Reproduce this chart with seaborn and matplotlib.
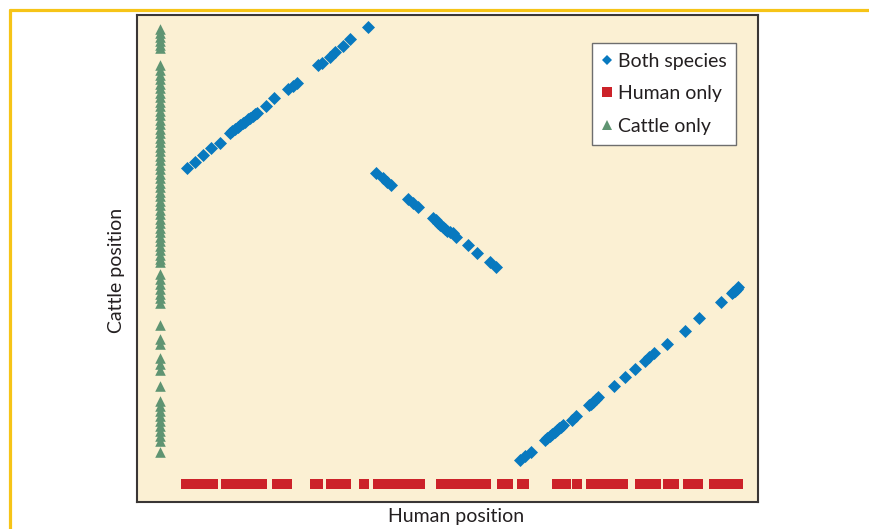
import numpy as np
import pandas as pd
import matplotlib
matplotlib.use("Agg")
import matplotlib.pyplot as plt
from matplotlib.lines import Line2D
import seaborn as sns

# ---------------- data (positions in arbitrary units) ----------------
both_human = [50, 58, 66, 74, 83, 93, 95, 98, 101, 103, 106, 108, 111, 113, 116, 118, 120,
              129, 137, 151, 156, 160, 181, 185, 193, 198, 206, 213, 231,
              239, 246, 250, 254, 271, 276, 281, 296, 299, 301, 303, 306, 308, 310, 313, 316,
              319, 331, 340, 353, 359,
              383, 388, 394, 408, 410, 413, 415, 418, 420, 422, 424, 426, 435, 439, 452, 454,
              456, 459, 461, 477, 488, 498, 508, 512, 517, 530, 548, 562, 584, 595, 596, 598,
              600, 601]
both_cattle = [334, 340, 347, 354, 359, 369, 371, 373, 375, 377, 379, 380, 383, 384, 386, 388, 389,
               396, 404, 413, 416, 419, 437, 439, 445, 450, 456, 463, 475,
               329, 324, 320, 317, 303, 299, 295, 284, 282, 279, 277, 275, 273, 271, 270, 269,
               265, 257, 249, 240, 235,
               42, 46, 50, 62, 64, 66, 68, 70, 72, 74, 75, 77, 82, 86, 97, 98,
               100, 103, 105, 116, 125, 133, 141, 145, 149, 158, 171, 184, 200, 209, 210, 211,
               213, 215]

human_only_x = [49, 58, 67, 76, 89, 98, 107, 116, 125, 140, 150, 178, 181, 194, 202, 209, 227,
                241, 250, 259, 268, 276, 283, 304, 313, 322, 331, 340, 349, 365, 371, 385, 387,
                420, 429, 440, 454, 463, 472, 481, 486, 503, 512, 519, 531, 537, 551, 561, 577,
                586, 595, 601]
human_only_y = [18.5] * len(human_only_x)

cattle_only_y = [473, 469, 465, 461, 457, 454,
                 437, 432, 427, 423, 418, 414, 409, 405, 400, 396, 391, 387, 382, 378, 373, 369,
                 364, 360, 355, 351, 346, 342, 337, 333, 328, 324, 319, 315, 310, 306, 301, 297,
                 292, 288, 283, 279, 274, 270, 265, 261, 256, 252, 247, 243, 240,
                 228, 223, 218, 213, 208, 204, 199,
                 177, 163, 158, 144, 138, 132, 116, 101, 96, 91, 86, 81, 76, 71, 66, 61, 50]
cattle_only_x = [23] * len(cattle_only_y)

labels = ["Both species", "Human only", "Cattle only"]
colors = ["#0879BF", "#CC2229", "#5F9472"]

df_both = pd.DataFrame({"Human position": both_human, "Cattle position": both_cattle})
df_human = pd.DataFrame({"Human position": human_only_x, "Cattle position": human_only_y})
df_cattle = pd.DataFrame({"Human position": cattle_only_x, "Cattle position": cattle_only_y})

# ---------------- figure ----------------
sns.set_theme(style="white")
plt.rcParams["font.family"] = ["Lato", "DejaVu Sans"]

fig = plt.figure(figsize=(8.69, 5.29), dpi=100)
ax = fig.add_axes([137 / 869, 1 - 502 / 529, (758 - 137) / 869, (502 - 15) / 529])
ax.set_facecolor("#FBF0D3")

sns.scatterplot(data=df_both, x="Human position", y="Cattle position", marker="D",
                color=colors[0], s=44, linewidth=0, ax=ax, label=labels[0])
sns.scatterplot(data=df_human, x="Human position", y="Cattle position", marker="s",
                color=colors[1], s=60, linewidth=0, ax=ax, label=labels[1])
sns.scatterplot(data=df_cattle, x="Human position", y="Cattle position", marker="^",
                color=colors[2], s=58, linewidth=0, ax=ax, label=labels[2])

ax.set_xlim(0, 621)
ax.set_ylim(0, 487)
ax.set_xticks([])
ax.set_yticks([])
for sp in ax.spines.values():
    sp.set_visible(True)
    sp.set_color("#3A3635")
    sp.set_linewidth(1.5)

ax.set_xlabel("Human position", fontsize=14, color="#231F20")
ax.set_ylabel("Cattle position", fontsize=14, color="#231F20")
ax.xaxis.set_label_coords(0.514, -0.013)
ax.yaxis.set_label_coords(-0.02, 0.476)

handles = [Line2D([], [], marker=m, color=c, linestyle="none", markersize=ms, markeredgewidth=0)
           for m, c, ms in zip(["D", "s", "^"], colors, [5, 7, 7])]
leg = ax.legend(handles, labels, loc="upper right", bbox_to_anchor=(0.9646, 0.9425),
                borderaxespad=0, frameon=True, fancybox=False, fontsize=14,
                handlelength=0.5, handletextpad=0.3, labelspacing=0.8,
                borderpad=0.5, labelcolor="#231F20")
leg.get_frame().set_edgecolor("#6E6E6E")
leg.get_frame().set_linewidth(1.0)
leg.get_frame().set_facecolor("white")
leg.get_frame().set_alpha(1)

# yellow frame
ycol = "#F6C417"
fig.add_artist(Line2D([10 / 869, 1], [1 - 10 / 529, 1 - 10 / 529], color=ycol, lw=2.3,
                      transform=fig.transFigure))
fig.add_artist(Line2D([10 / 869, 10 / 869], [0, 1 - 10 / 529], color=ycol, lw=2.3,
                      transform=fig.transFigure))

fig.savefig("out.png", dpi=100)
